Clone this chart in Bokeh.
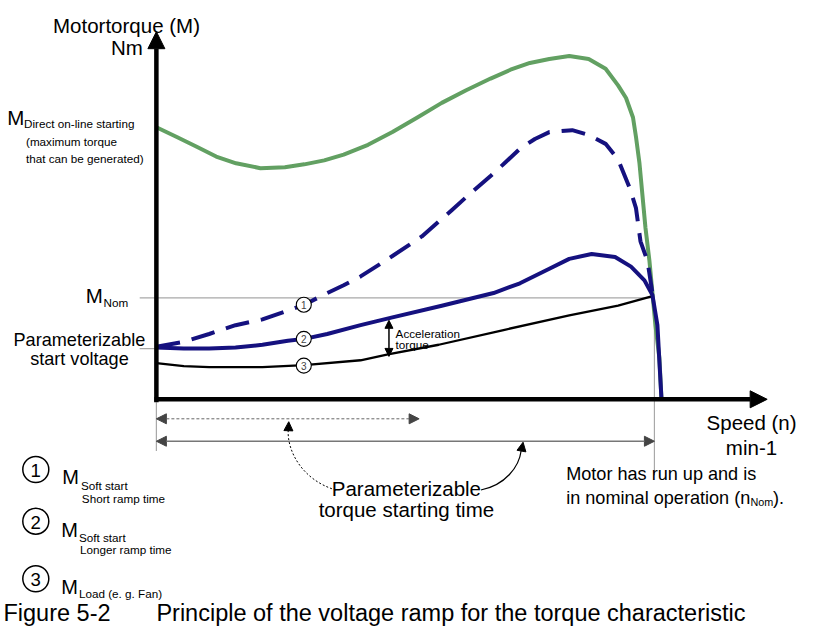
from bokeh.plotting import figure
from bokeh.models import Range1d, Arrow, NormalHead, Label
from bokeh.embed import file_html
from bokeh.resources import INLINE

# ---------------- data (speed in % of n_Nom, torque in % of M_Nom) ----------------
speed_dol = [0, 4.1, 8.1, 12.0, 16.0, 20.9, 25.8, 29.7, 33.7, 37.6, 42.5, 47.4, 52.4, 57.3, 62.2,
             67.1, 71.1, 75.0, 78.9, 82.9, 86.8, 90.2, 92.7, 94.3, 95.7, 96.3, 97.0, 97.6, 98.2,
             99.0, 99.6, 100.2, 101.0, 101.4]
torque_dol = [268.3, 258.7, 249.0, 239.4, 232.7, 227.9, 228.8, 231.7, 235.6, 241.3, 251.0, 263.5,
              277.9, 292.3, 304.8, 316.3, 325.0, 331.7, 335.6, 338.5, 335.6, 326.0, 309.6, 297.1,
              277.9, 258.7, 232.7, 201.0, 169.2, 136.5, 104.8, 73.1, 40.4, 1.9]

speed_soft_short = [0, 5.5, 10.6, 15.9, 21.3, 26.4, 29.7, 34.3, 37.6, 41.0, 44.1, 47.4, 53.3, 59.3,
                    63.2, 67.1, 70.1, 73.0, 76.0, 78.9, 83.5, 86.8, 90.2, 92.7, 95.1, 96.3, 97.2,
                    98.6, 99.6]
torque_soft_short = [51.9, 56.7, 64.4, 73.1, 78.8, 87.5, 93.3, 104.8, 112.5, 121.2, 130.8, 141.3,
                     160.6, 186.5, 203.8, 220.2, 233.7, 247.1, 256.7, 263.5, 265.4, 260.6, 251.9,
                     236.5, 207.7, 188.5, 155.8, 136.5, 104.8]

speed_soft_long = [0, 5.5, 10.6, 15.9, 21.3, 26.4, 29.7, 34.3, 41.0, 47.4, 57.3, 67.7, 73.0, 78.9,
                   82.9, 87.4, 92.1, 95.3, 98.0, 99.6, 100.6, 101.0, 101.4]
torque_soft_long = [51.0, 50.0, 50.0, 51.0, 53.8, 57.7, 59.6, 64.4, 73.1, 80.8, 92.3, 104.8, 114.4,
                    128.8, 138.5, 143.3, 140.4, 130.8, 117.3, 102.9, 73.1, 37.5, 1.9]

speed_load = [0, 5.5, 10.6, 21.3, 29.7, 41.0, 46.5, 56.7, 69.7, 82.9, 92.7, 99.8]
torque_load = [35.6, 32.7, 31.7, 31.7, 33.7, 38.5, 44.2, 53.8, 68.3, 82.7, 92.3, 101.9]

marker_speed = [29.6, 29.6, 29.6]
marker_torque = [93.3, 59.6, 33.2]
marker_labels = ["1", "2", "3"]

nominal_speed = 100
nominal_torque = 100
start_torque = 50
accel_speed = 46.7
accel_from = 77.9
accel_to = 42.3

# ---------------- layout helpers (reference pixel position -> data units) ----------------
X0, SX = 159.0, 5.08
Y0, SY = 409.0, 1.04
REF_W, REF_H = 816, 642      # extent of the reference drawing
W, H = 800, 626              # canvas that fits the window with its 8px margin
FS = 0.978                   # font scale for the slightly smaller canvas


def X(px):
    return (px - X0) / SX


def Y(py):
    return (Y0 - py) / SY


FONT = "Liberation Sans"
GREEN = "#62a062"
NAVY = "#15117f"
GRAY = "#a8a8a8"

p = figure(width=W, height=H,
           x_range=Range1d(X(0), X(REF_W)), y_range=Range1d(Y(REF_H), Y(0)),
           output_backend="svg", toolbar_location=None, min_border=0,
           x_axis_location=None, y_axis_location=None)
p.grid.grid_line_color = None
p.outline_line_color = None
p.background_fill_color = "white"
p.border_fill_color = "white"


def label(px, py, text, size, align="left", baseline="alphabetic", color="black"):
    p.add_layout(Label(x=X(px), y=Y(py), text=text, text_font=FONT,
                       text_font_size=f"{size * FS:.1f}px", text_align=align,
                       text_baseline=baseline, text_color=color))


# reference lines
p.line([X(142), nominal_speed], [nominal_torque, nominal_torque], line_color=GRAY, line_width=1.2)
p.line([X(142), 0], [start_torque, start_torque], line_color=GRAY, line_width=1.2)
p.line([nominal_speed, nominal_speed], [nominal_torque, Y(487)], line_color=GRAY, line_width=1.2)
p.line([0, 0], [Y(412), Y(462)], line_color=GRAY, line_width=1.2)

# curves
p.line(speed_dol, torque_dol, line_color=GREEN, line_width=4, line_join="round")
p.line(speed_load, torque_load, line_color="black", line_width=2.3, line_join="round")
p.line(speed_soft_long, torque_soft_long, line_color=NAVY, line_width=4, line_join="round")
p.line(speed_soft_short, torque_soft_short, line_color=NAVY, line_width=4, line_dash="24 12",
       line_join="round")

# axes with arrows
p.add_layout(Arrow(end=NormalHead(size=17, fill_color="black", line_color="black"),
                   x_start=0, y_start=Y(412), x_end=0, y_end=Y(32),
                   line_width=4.5, line_color="black"))
p.add_layout(Arrow(end=NormalHead(size=17, fill_color="black", line_color="black"),
                   x_start=X(157), y_start=0, x_end=X(782), y_end=0,
                   line_width=4.5, line_color="black"))

# acceleration torque arrow
p.add_layout(Arrow(start=NormalHead(size=8, fill_color="black", line_color="black"),
                   end=NormalHead(size=8, fill_color="black", line_color="black"),
                   x_start=accel_speed, y_start=accel_from, x_end=accel_speed, y_end=accel_to,
                   line_width=1.5, line_color="black"))

# time arrows
p.add_layout(Arrow(start=NormalHead(size=10, fill_color="#444444", line_color="#444444"),
                   end=NormalHead(size=10, fill_color="#444444", line_color="#444444"),
                   x_start=0, y_start=Y(429), x_end=X(427), y_end=Y(429),
                   line_width=1, line_color="#666666", line_dash="3 2"))
p.add_layout(Arrow(start=NormalHead(size=10, fill_color="#444444", line_color="#444444"),
                   end=NormalHead(size=10, fill_color="#444444", line_color="#444444"),
                   x_start=0, y_start=Y(452), x_end=nominal_speed, y_end=Y(452),
                   line_width=1.5, line_color="#777777"))

# curved pointers
p.bezier(x0=[X(342)], y0=[Y(502)], x1=[X(293.5)], y1=[Y(440)],
         cx0=[X(308)], cy0=[Y(492)], cx1=[X(292)], cy1=[Y(462)],
         line_color="black", line_width=1, line_dash="2 2")
p.add_layout(Arrow(end=NormalHead(size=9, fill_color="black", line_color="black"),
                   x_start=X(293.5), y_start=Y(446), x_end=X(294), y_end=Y(432),
                   line_alpha=0))
p.bezier(x0=[X(490)], y0=[Y(502)], x1=[X(531)], y1=[Y(462)],
         cx0=[X(515)], cy0=[Y(497)], cx1=[X(529)], cy1=[Y(478)],
         line_color="black", line_width=1.2)
p.add_layout(Arrow(end=NormalHead(size=9, fill_color="black", line_color="black"),
                   x_start=X(530.5), y_start=Y(467), x_end=X(533), y_end=Y(453),
                   line_alpha=0))

# curve markers
p.scatter(marker_speed, marker_torque, marker="circle", size=15, fill_color="white",
          line_color="black", line_width=1.1)
for s, t, lab in zip(marker_speed, marker_torque, marker_labels):
    p.add_layout(Label(x=s, y=t, text=lab, text_font=FONT, text_font_size="10px",
                       text_align="center", text_baseline="middle", y_offset=-0.5))

# ---------------- texts ----------------
label(128.5, 26, "Motortorque (M)", 21, align="center")
label(129, 48, "Nm", 21, align="center")

label(7, 120, "M", 21)
label(24, 126, "Direct on-line starting", 12)
label(26, 145, "(maximum torque", 12)
label(26, 162, "that can be generated)", 12)

label(87, 303, "M", 21)
label(105, 310, "Nom", 12)
label(80.5, 348, "Parameterizable", 18.5, align="center")
label(80.5, 368, "start voltage", 18.5, align="center")

label(403, 342, "Acceleration", 12)
label(403, 353, "torque", 12)

label(812, 433, "Speed (n)", 21, align="right")
label(766, 458, "min-1", 21, align="center")

label(577, 486, "Motor has run up and is", 18.5)
label(577, 510, "in nominal operation (n", 18.5)
label(765, 514, "Nom", 11)
label(788, 510, ").", 18.5)

label(414, 500, "Parameterizable", 21, align="center")
label(414, 522, "torque starting time", 21, align="center")

# legend
legend_y = [481, 534, 593]
p.scatter([X(36)] * 3, [Y(v) for v in legend_y], marker="circle", size=26,
          fill_color="white", line_color="black", line_width=1.5)
for v, lab in zip(legend_y, marker_labels):
    label(36, v + 1, lab, 19, align="center", baseline="middle")

label(63, 489, "M", 20.5)
label(82, 497, "Soft start", 12)
label(83, 511, "Short ramp time", 12)
label(62, 543, "M", 20.5)
label(80, 551, "Soft start", 12)
label(81, 563, "Longer ramp time", 12)
label(62, 602, "M", 20.5)
label(80, 608, "Load (e. g. Fan)", 12)

label(3, 628, "Figure 5-2", 24)
label(159, 628, "Principle of the voltage ramp for the torque characteristic", 24)

open("out.html", "w").write(file_html(p, INLINE))
